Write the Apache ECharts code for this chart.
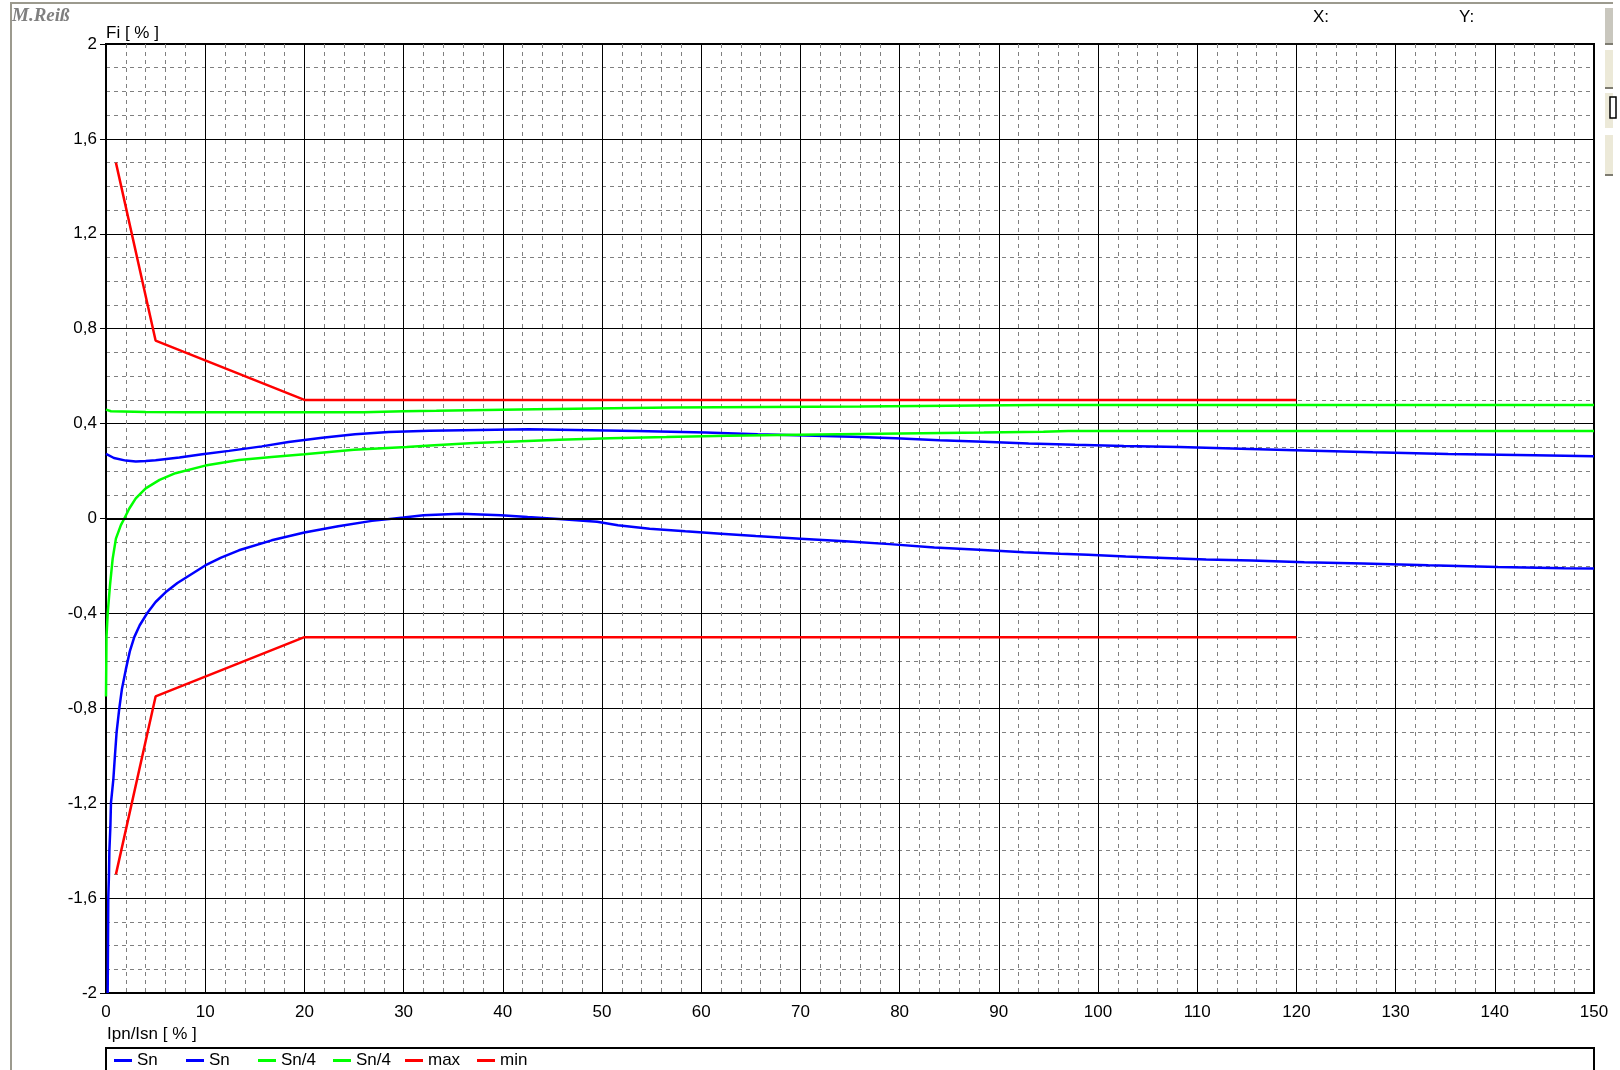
<!DOCTYPE html>
<html>
<head>
<meta charset="utf-8">
<script src="https://cdn.jsdelivr.net/npm/echarts@6/dist/echarts.min.js"></script>
<style>
html,body{margin:0;padding:0;background:#fff;}
#chart{width:1620px;height:1070px;}
</style>
</head>
<body>
<div id="chart"></div>
<script>
// ---- axis settings ----
const xMin = 0, xMax = 150, xStep = 10;
const yMin = -2, yMax = 2, yStep = 0.4;
const xTitle = 'Ipn/Isn [ % ]';
const yTitle = 'Fi [ % ]';
const legendNames = ['Sn', 'Sn ', 'Sn/4', 'Sn/4 ', 'max', 'min'];

// ---- series data [x, y] ----
const snUpper = [
  [0,0.272],[0.8,0.255],[2,0.244],[3,0.240],[4,0.242],[5,0.246],[7.4,0.257],[9.7,0.271],
  [12.4,0.285],[15.7,0.304],[18.4,0.322],[21.8,0.340],[25.1,0.355],[28.5,0.365],[32.6,0.370],
  [42.6,0.376],[53.5,0.369],[60.4,0.362],[65.7,0.355],[70.6,0.350],[75.2,0.345],[79.6,0.338],
  [84,0.330],[88.5,0.323],[93,0.316],[97.7,0.311],[102.6,0.306],[108.2,0.301],[114.4,0.294],
  [120.8,0.287],[127.7,0.279],[135.3,0.272],[144,0.267],[150,0.262]
];
const snLower = [
  [0.17,-2.0],[0.23,-1.6],[0.3,-1.5],[0.34,-1.4],[0.44,-1.3],[0.5,-1.2],[0.74,-1.1],[0.9,-1.0],
  [1.07,-0.9],[1.34,-0.8],[1.6,-0.72],[2,-0.636],[2.4,-0.56],[2.85,-0.50],[3.4,-0.45],
  [4.2,-0.396],[5,-0.352],[6,-0.311],[7.2,-0.272],[8.4,-0.240],[10,-0.198],[11.6,-0.165],
  [13.4,-0.134],[16.7,-0.092],[20,-0.059],[23.4,-0.033],[26.8,-0.010],
  [30,0.004],[32,0.014],[35.7,0.020],[39.8,0.014],[42.5,0.006],[46,-0.003],[49.5,-0.014],
  [51.6,-0.028],[54.8,-0.043],[58.4,-0.054],[62,-0.064],[65.5,-0.074],[70,-0.085],[74.5,-0.096],
  [79,-0.108],[83.5,-0.122],[88,-0.132],[92.5,-0.142],[96.2,-0.149],[99,-0.153],[102.8,-0.160],
  [106.7,-0.166],[110.9,-0.173],[115.5,-0.177],[120.8,-0.184],[126.7,-0.190],[133.3,-0.197],
  [140.3,-0.204],[147,-0.210],[150,-0.211]
];
const sn4Upper = [
  [0,0.459],[0.5,0.452],[4,0.449],[8,0.448],[26,0.448],[30,0.452],[33.3,0.454],[43.3,0.461],
  [57,0.468],[76,0.472],[93.8,0.478],[150,0.478]
];
const sn4Lower = [
  [0,-0.75],[0.05,-0.5],[0.17,-0.40],[0.4,-0.283],[0.67,-0.17],[1.0,-0.085],[1.5,-0.028],
  [1.85,0],[2.35,0.042],[3,0.085],[4,0.127],[5.4,0.163],[7,0.191],[10,0.223],[13.4,0.247],
  [16.7,0.259],[20,0.271],[25,0.290],[30.3,0.301],[33.1,0.309],[37.1,0.318],[41.2,0.325],
  [45.7,0.332],[50.8,0.338],[56.5,0.343],[62.7,0.349],[69.7,0.353],[78,0.357],[88.5,0.362],
  [94.5,0.366],[97,0.369],[150,0.369]
];
const maxLimit = [[1,1.5],[5,0.75],[20,0.5],[120,0.5]];
const minLimit = [[1,-1.5],[5,-0.75],[20,-0.5],[120,-0.5]];

const FONT = 'Liberation Sans';
const legendLeft = [114, 186, 258, 333, 405, 477];
const chart = echarts.init(document.getElementById('chart'), null, {renderer: 'canvas'});

function lineSeries(name, data, color, extra) {
  return Object.assign({
    name: name, type: 'line', data: data, showSymbol: false, symbol: 'none',
    lineStyle: {color: color, width: 2.5}, itemStyle: {color: color},
    animation: false, emphasis: {disabled: true}
  }, extra || {});
}

const legends = legendNames.map(function (n, i) {
  return {
    left: legendLeft[i], top: 1052, padding: 0, itemWidth: 18, itemHeight: 3,
    icon: 'rect', data: [n], selectedMode: false,
    formatter: function (s) { return s.trim(); },
    textStyle: {color: '#000', fontFamily: FONT, fontSize: 17}
  };
});

const option = {
  backgroundColor: '#ffffff',
  animation: false,
  grid: {left: 106, top: 44, width: 1488, height: 949, show: true,
         borderColor: '#000', borderWidth: 2, backgroundColor: 'transparent'},
  xAxis: {
    type: 'value', min: xMin, max: xMax, interval: xStep,
    axisLine: {show: false},
    axisTick: {show: true, length: 5, lineStyle: {color: '#000'}},
    axisLabel: {color: '#000', fontFamily: FONT, fontSize: 17, margin: 11},
    splitLine: {show: true, lineStyle: {color: '#000', width: 1}},
    minorTick: {show: false, splitNumber: 5},
    minorSplitLine: {show: true, lineStyle: {color: '#808080', width: 1, type: [4, 4]}}
  },
  yAxis: {
    type: 'value', min: yMin, max: yMax, interval: yStep,
    name: yTitle, nameLocation: 'end', nameGap: 2,
    nameTextStyle: {color: '#000', fontFamily: FONT, fontSize: 17, align: 'left', verticalAlign: 'bottom'},
    axisLine: {show: false},
    axisTick: {show: true, length: 6, lineStyle: {color: '#000'}},
    axisLabel: {color: '#000', fontFamily: FONT, fontSize: 17, margin: 9, padding: [0, 0, 6, 0],
      formatter: function (v) { const r = Math.round(v * 10) / 10; return String(r).replace('.', ','); }},
    splitLine: {show: true, lineStyle: {color: '#000', width: 1}},
    minorTick: {show: false, splitNumber: 4},
    minorSplitLine: {show: true, lineStyle: {color: '#808080', width: 1, type: [4, 4]}}
  },
  legend: legends,
  graphic: [
    {type: 'line', shape: {x1: 10, y1: 3, x2: 1613, y2: 3}, style: {stroke: '#9c9a8e', lineWidth: 2}, silent: true},
    {type: 'line', shape: {x1: 11, y1: 3, x2: 11, y2: 1070}, style: {stroke: '#9c9a8e', lineWidth: 2}, silent: true},
    {type: 'text', left: 12, top: 7, silent: true,
      style: {text: 'M.Reiß', fill: '#7f7f7f', font: 'italic bold 19px "Liberation Serif"'}},
    {type: 'text', left: 1313, top: 9, silent: true,
      style: {text: 'X:', fill: '#000', font: '17px "Liberation Sans"'}},
    {type: 'text', left: 1459, top: 9, silent: true,
      style: {text: 'Y:', fill: '#000', font: '17px "Liberation Sans"'}},
    {type: 'text', left: 107, top: 1026, silent: true,
      style: {text: xTitle, fill: '#000', font: '17px "Liberation Sans"'}},
    {type: 'rect', shape: {x: 106, y: 1048, width: 1488, height: 40}, silent: true,
      style: {fill: 'none', stroke: '#000', lineWidth: 2}},
    {type: 'rect', shape: {x: 1605, y: 8, width: 8, height: 36}, silent: true, style: {fill: '#c9c7be'}},
    {type: 'rect', shape: {x: 1605, y: 43, width: 8, height: 2}, silent: true, style: {fill: '#7d7b70'}},
    {type: 'rect', shape: {x: 1605, y: 50, width: 8, height: 38}, silent: true, style: {fill: '#ece9d8'}},
    {type: 'rect', shape: {x: 1605, y: 87, width: 8, height: 2}, silent: true, style: {fill: '#7d7b70'}},
    {type: 'rect', shape: {x: 1605, y: 93, width: 8, height: 35}, silent: true, style: {fill: '#ece9d8'}},
    {type: 'rect', shape: {x: 1610, y: 97, width: 6, height: 21}, silent: true, style: {fill: '#fff', stroke: '#000', lineWidth: 1.5}},
    {type: 'rect', shape: {x: 1605, y: 135, width: 8, height: 40}, silent: true, style: {fill: '#ece9d8'}},
    {type: 'rect', shape: {x: 1605, y: 174, width: 8, height: 2}, silent: true, style: {fill: '#7d7b70'}}
  ],
  series: [
    lineSeries(legendNames[0], snUpper, '#0000ff'),
    lineSeries(legendNames[1], snLower, '#0000ff', {
      markLine: {silent: true, symbol: 'none', label: {show: false}, animation: false,
        lineStyle: {color: '#000', width: 2, type: 'solid'}, emphasis: {disabled: true},
        data: [{yAxis: 0}]}
    }),
    lineSeries(legendNames[2], sn4Upper, '#00ff00'),
    lineSeries(legendNames[3], sn4Lower, '#00ff00'),
    lineSeries(legendNames[4], maxLimit, '#ff0000'),
    lineSeries(legendNames[5], minLimit, '#ff0000')
  ]
};
chart.setOption(option);
</script>
</body>
</html>
